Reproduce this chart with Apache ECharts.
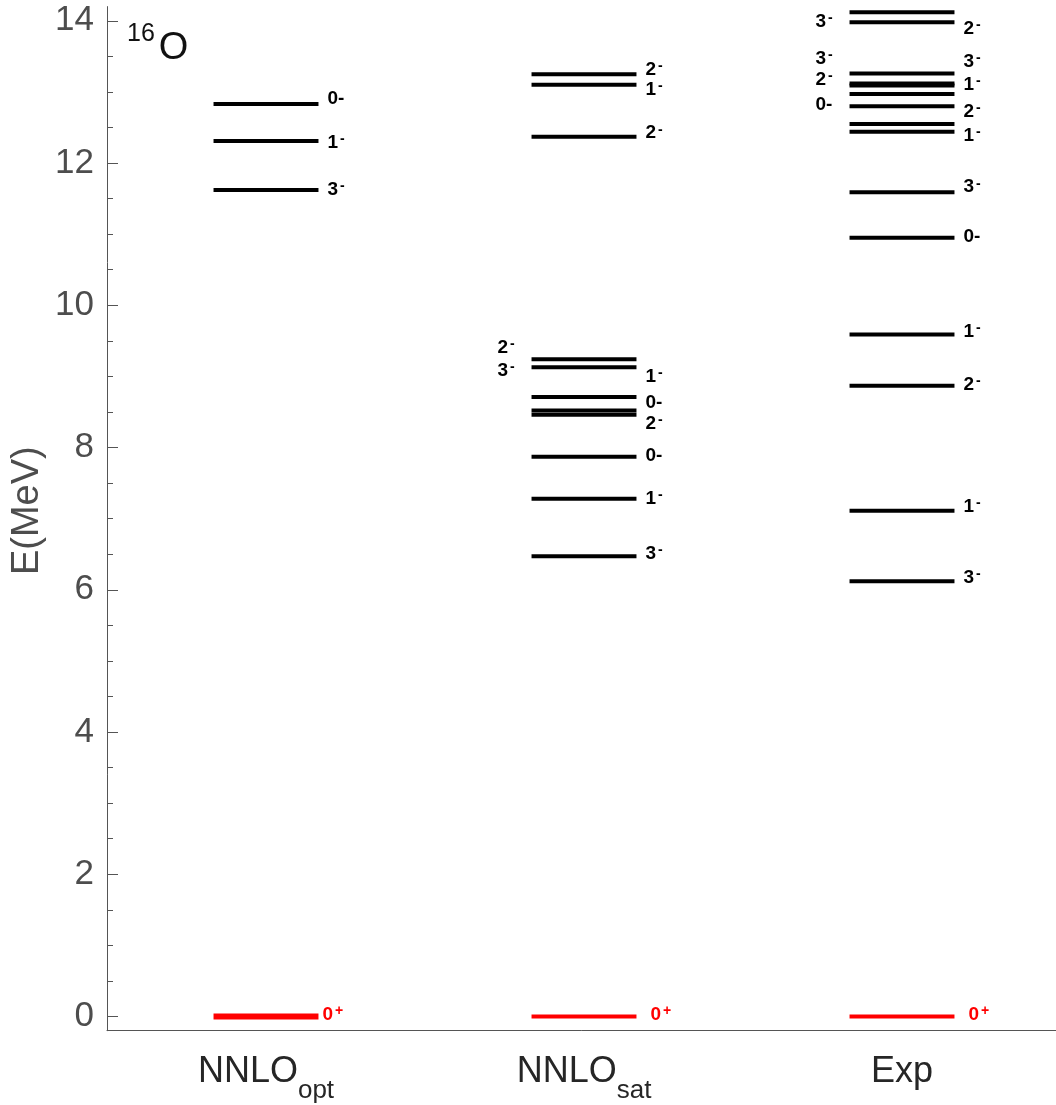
<!DOCTYPE html>
<html><head><meta charset="utf-8">
<script src="https://cdn.jsdelivr.net/npm/echarts@6/dist/echarts.min.js"></script>
<style>html,body{margin:0;padding:0;background:#fff}#c{width:1056px;height:1105px}</style>
</head><body><div id="c"></div>
<script>
// ---- data ----
const categories = ['NNLO_opt', 'NNLO_sat', 'Exp'];

const optE      = [0, 11.62, 12.31, 12.83];
const optJ      = ['0+', '3-', '1-', '0-'];
const optLabelE = [0.02, 11.63, 12.29, 12.90];
const optSide   = ['r', 'r', 'r', 'r'];

const satE      = [0, 6.47, 7.28, 7.87, 8.46, 8.52, 8.71, 9.13, 9.24, 12.37, 13.10, 13.25];
const satJ      = ['0+', '3-', '1-', '0-', '2-', '0-', '1-', '3-', '2-', '2-', '1-', '2-'];
const satLabelE = [0.02, 6.51, 7.28, 7.88, 8.33, 8.63, 8.99, 9.08, 9.40, 12.42, 13.03, 13.31];
const satSide   = ['r', 'r', 'r', 'r', 'r', 'r', 'r', 'l', 'l', 'r', 'r', 'r'];

const expE      = [0, 6.12, 7.11, 8.87, 9.59, 10.95, 11.59, 12.44, 12.55, 12.80, 12.97, 13.09, 13.12, 13.26, 13.98, 14.12];
const expJ      = ['0+', '3-', '1-', '2-', '1-', '0-', '3-', '1-', '2-', '0-', '2-', '1-', '3-', '3-', '2-', '3-'];
const expLabelE = [0.02, 6.17, 7.17, 8.88, 9.63, 10.96, 11.66, 12.38, 12.72, 12.82, 13.17, 13.10, 13.43, 13.47, 13.89, 13.99];
const expSide   = ['r', 'r', 'r', 'r', 'r', 'r', 'r', 'r', 'r', 'l', 'l', 'r', 'r', 'l', 'r', 'l'];

// ---- build ----
const columns = [
  [optE, optJ, optLabelE, optSide],
  [satE, satJ, satLabelE, satSide],
  [expE, expJ, expLabelE, expSide]
];
const items = [];
const meta = [];
columns.forEach((col, c) => {
  col[0].forEach((e, i) => {
    items.push([c, e]);
    meta.push({ c: c, J: col[1][i], le: col[2][i], side: col[3][i] });
  });
});

const FONT = 'Liberation Sans, Arial, Helvetica, sans-serif';
const groundWidth = [6, 4, 4];
const groundGap = [4, 14, 14];

function jText(J) {
  if (J === '0-') return '{n|0-}';
  return '{n|' + J[0] + '}{s|' + (J[1] === '-' ? '-' : '+') + '}';
}

function renderItem(params, api) {
  const m = meta[params.dataIndex];
  const p = api.coord([api.value(0), api.value(1)]);
  const band = api.size([1, 0])[0];
  const half = band * 0.165;
  const ground = m.J === '0+';
  const color = ground ? '#ff0000' : '#000000';
  const lw = ground ? groundWidth[m.c] : 4;
  const ly = api.coord([api.value(0), m.le])[1];
  const tx = m.side === 'l' ? p[0] - half - 34 : p[0] + half + (ground ? groundGap[m.c] : 9);
  return {
    type: 'group',
    children: [
      { type: 'line', shape: { x1: p[0] - half, y1: p[1], x2: p[0] + half, y2: p[1] },
        style: { stroke: color, lineWidth: lw } },
      { type: 'text', style: {
          x: tx, y: ly, text: jText(m.J), align: 'left', verticalAlign: 'middle',
          fill: color, fontSize: 19, fontWeight: 'bold', fontFamily: FONT,
          rich: {
            n: { fill: color, fontSize: 19, fontWeight: 'bold', fontFamily: FONT, lineHeight: 21, verticalAlign: 'middle' },
            s: { fill: color, fontSize: 14, fontWeight: 'bold', fontFamily: FONT, lineHeight: 13, verticalAlign: 'top', padding: [0, 0, 0, 2] }
          }
      } }
    ]
  };
}

const chart = echarts.init(document.getElementById('c'), null, { renderer: 'canvas' });
chart.setOption({
  backgroundColor: '#ffffff',
  animation: false,
  title: {
    text: '{s|16}{o|O}', left: 127, top: 22, padding: 0,
    textStyle: {
      fontWeight: 'normal',
      rich: {
        s: { fontSize: 25, fontFamily: FONT, fontWeight: 'normal', color: '#111', lineHeight: 25, verticalAlign: 'top' },
        o: { fontSize: 38, fontFamily: FONT, fontWeight: 'normal', color: '#111', lineHeight: 38, verticalAlign: 'top', padding: [8, 0, 0, 4] }
      }
    }
  },
  grid: [
    { left: 107, top: 6.6, width: 954, height: 1024.1, containLabel: false, outerBoundsMode: 'none' },
    { left: 107, top: 20.8, width: 954, height: 995.7, containLabel: false, outerBoundsMode: 'none' }
  ],
  xAxis: [
    { gridIndex: 0, type: 'category', data: categories,
      axisLine: { show: true, onZero: false, lineStyle: { color: '#555', width: 1 } },
      axisTick: { show: false },
      axisLabel: {
        margin: 42, verticalAlign: 'middle',
        formatter: function (v) {
          const parts = v.split('_');
          return parts.length > 1 ? '{m|' + parts[0] + '}{s|' + parts[1] + '}' : '{m|' + v + '}';
        },
        rich: {
          m: { fontSize: 36, fontFamily: FONT, color: '#262626', lineHeight: 38, verticalAlign: 'top' },
          s: { fontSize: 26, fontFamily: FONT, color: '#262626', lineHeight: 26, verticalAlign: 'top', padding: [24, 0, 0, 0] }
        }
      },
      splitLine: { show: false } },
    { gridIndex: 1, type: 'category', data: categories, show: false }
  ],
  yAxis: [
    { gridIndex: 0, type: 'value', min: -0.2, max: 14.2,
      axisLine: { show: true, onZero: false, lineStyle: { color: '#555', width: 1 } },
      axisTick: { show: false }, axisLabel: { show: false }, splitLine: { show: false },
      name: 'E(MeV)', nameLocation: 'middle', nameGap: 60, nameRotate: 90,
      nameTextStyle: { fontSize: 38, fontFamily: FONT, color: '#4d4d4d', padding: [0, 0, 0, 16] } },
    { gridIndex: 1, type: 'value', min: 0, max: 14, interval: 2,
      axisLine: { show: false },
      axisTick: { show: true, inside: true, length: 11, lineStyle: { color: '#555', width: 1 } },
      minorTick: { show: true, splitNumber: 4, length: 6, lineStyle: { color: '#555', width: 1 } },
      axisLabel: { fontSize: 35, fontFamily: FONT, color: '#4d4d4d', margin: 13 },
      splitLine: { show: false }, minorSplitLine: { show: false } }
  ],
  series: [{
    type: 'custom', xAxisIndex: 0, yAxisIndex: 0, renderItem: renderItem,
    data: items, clip: false, silent: true
  }]
});
</script></body></html>
